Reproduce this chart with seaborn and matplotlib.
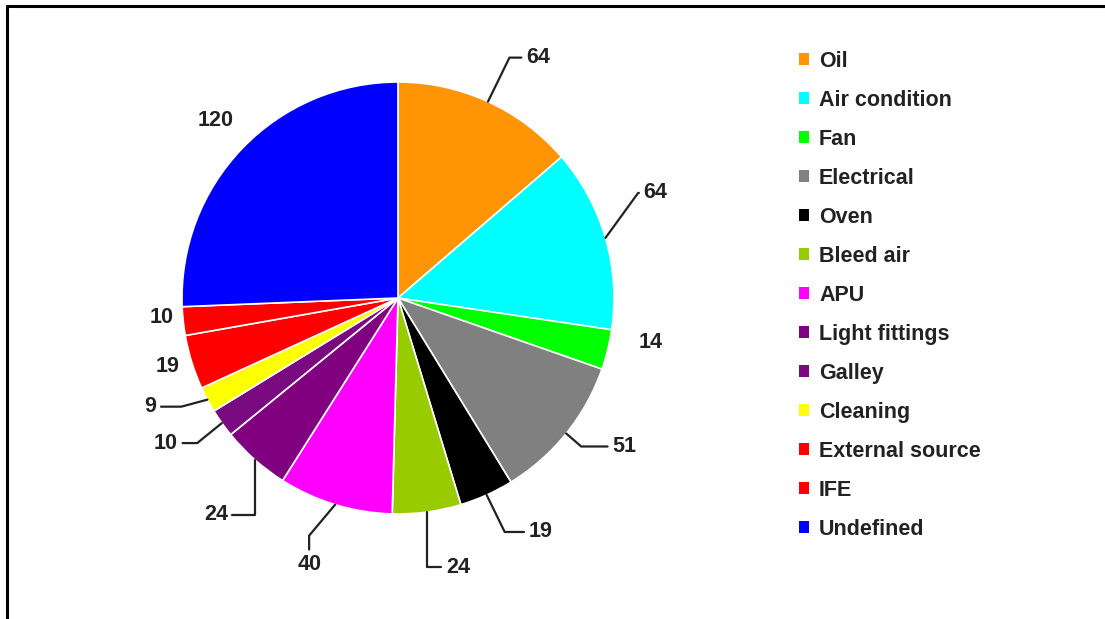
import numpy as np
import matplotlib
matplotlib.use("Agg")
import matplotlib.pyplot as plt
from matplotlib.lines import Line2D
import seaborn as sns

# --- Data ---
CATEGORIES = ["Oil", "Air condition", "Fan", "Electrical", "Oven", "Bleed air", "APU",
              "Light fittings", "Galley", "Cleaning", "External source", "IFE", "Undefined"]
COUNTS = [64, 64, 14, 51, 19, 24, 40, 24, 10, 9, 19, 10, 120]

# --- Style ---
COLORS = ["#FF9405", "#00FFFF", "#00FF00", "#808080", "#000000", "#99CC00", "#FF00FF",
          "#800080", "#7A0A80", "#FFFF00", "#FF0000", "#FF0000", "#0000FF"]
# label offsets from wedge edge (pixels, y up) and leader line angle at the wedge (None = no line)
LABEL_OFFSETS = [(50, 44), (50, 45), (43, 7), (58, -13), (54, -37), (31, -55), (-26, -60),
                 (-39, -55), (-56, -20), (-57, -7), (-24, -4), (-22, 4), (-27, 28)]
LEADER_B = [64, 54, None, -41, -64, 90, 50, 90, 39, 15, None, None, None]
LEADER_A = [0, 0, None, 0, 0, 0, 90, 0, 0, 0, None, None, None]

FONT_SIZE = 15.5

sns.set_theme(style="white")
plt.rcParams["font.family"] = ["Liberation Sans", "DejaVu Sans"]
plt.rcParams["font.weight"] = "bold"

W, H = 1105, 619
fig = plt.figure(figsize=(W / 100, H / 100), dpi=100)
fig.patch.set_facecolor("white")

# pie centre ~ (398, 298) px from top-left, radius ~216 px
cx, cy, r = 398, 298, 216
half = 1.5 * r
ax = fig.add_axes([(cx - half) / W, (H - cy - half) / H, 2 * half / W, 2 * half / H])

wedges, _ = ax.pie(COUNTS, colors=COLORS, startangle=90, counterclock=False,
                   wedgeprops=dict(edgecolor="white", linewidth=1.2))
ax.set_xlim(-1.5, 1.5)
ax.set_ylim(-1.5, 1.5)
ax.set_aspect("equal")
ax.axis("off")

for w, val, off, angB, angA in zip(wedges, COUNTS, LABEL_OFFSETS, LEADER_B, LEADER_A):
    mid = np.deg2rad((w.theta1 + w.theta2) / 2)
    anchor = (np.cos(mid), np.sin(mid))
    arrow = None
    if angB is not None:
        arrow = dict(arrowstyle="-", color="#222222", lw=1.6, shrinkA=1, shrinkB=0,
                     connectionstyle=f"angle,angleA={angA},angleB={angB},rad=0")
    ax.annotate(str(val), xy=anchor, xytext=(off[0] * 0.72, off[1] * 0.72),
                textcoords="offset points", ha="center", va="center",
                fontsize=FONT_SIZE, fontweight="bold", color="#222222",
                arrowprops=arrow, annotation_clip=False)

leg = fig.legend(wedges, CATEGORIES, loc="upper left",
                 bbox_to_anchor=(799 / W, 1 - 51 / H), frameon=False,
                 fontsize=FONT_SIZE, handlelength=0.47, handleheight=0.47,
                 handletextpad=0.46, labelspacing=0.835, borderpad=0, borderaxespad=0)
for t in leg.get_texts():
    t.set_color("#222222")
    t.set_fontweight("bold")
for h in leg.legend_handles:
    h.set_edgecolor("none")

# outer frame (top and left only, as in the reference)
fig.add_artist(Line2D([7 / W, 1.0], [1 - 6 / H, 1 - 6 / H], transform=fig.transFigure,
                      color="black", lw=2.2))
fig.add_artist(Line2D([7 / W, 7 / W], [1 - 6 / H, 0.0], transform=fig.transFigure,
                      color="black", lw=2.2))

fig.savefig("out.png", dpi=100)
